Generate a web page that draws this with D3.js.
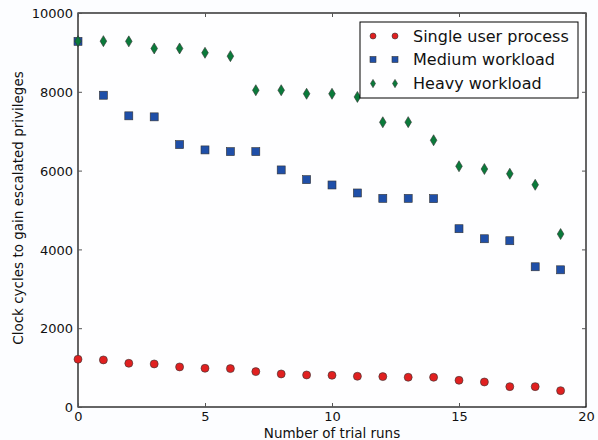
<!DOCTYPE html>
<html><head><meta charset="utf-8">
<script src="https://cdn.jsdelivr.net/npm/d3@7"></script>
<style>body{margin:0;background:#fcfdff;}svg{display:block;font-family:"DejaVu Sans",sans-serif;}</style>
</head><body><svg id="c" width="598" height="440"></svg>
<script>
const trials = d3.range(0, 20);
const singleUser = [1212,1195,1110,1093,1017,983,975,898,839,813,805,780,771,755,755,678,635,517,517,415];
const mediumLoad = [9280,7913,7390,7364,6660,6525,6482,6482,6017,5770,5635,5432,5295,5295,5287,4525,4270,4220,3559,3482];
const heavyLoad  = [9286,9286,9280,9100,9100,8990,8905,8040,8040,7950,7950,7870,7227,7230,6770,6110,6040,5920,5640,4390];
const xTicks = [0,5,10,15,20];
const yTicks = [0,2000,4000,6000,8000,10000];
const seriesNames = ["Single user process","Medium workload","Heavy workload"];
const seriesColors = ["#e02020","#1f4fa8","#0a7a3a"];
const seriesShapes = ["circle","square","diamond"];

const svg = d3.select("#c");
const L=78, R=586, T=13, B=407;
const x = d3.scaleLinear().domain([0,20]).range([L,R]);
const y = d3.scaleLinear().domain([0,10000]).range([B,T]);

// frame
svg.append("rect").attr("x",L).attr("y",T).attr("width",R-L).attr("height",B-T)
  .attr("fill","#fefeff").attr("stroke","#000").attr("stroke-width",1.2);

// axes with inward ticks
const fs = 13;
const ax = svg.append("g").attr("transform",`translate(0,${B})`)
  .call(d3.axisBottom(x).tickValues(xTicks).tickSize(-4).tickPadding(5).tickFormat(d3.format("d")));
const axT = svg.append("g").attr("transform",`translate(0,${T})`)
  .call(d3.axisTop(x).tickValues(xTicks).tickSize(-4).tickFormat(""));
const ay = svg.append("g").attr("transform",`translate(${L},0)`)
  .call(d3.axisLeft(y).tickValues(yTicks).tickSize(-4).tickPadding(5).tickFormat(d3.format("d")));
const ayR = svg.append("g").attr("transform",`translate(${R},0)`)
  .call(d3.axisRight(y).tickValues(yTicks).tickSize(-4).tickFormat(""));
[ax,axT,ay,ayR].forEach(g=>{
  g.select(".domain").remove();
  g.selectAll(".tick line").attr("stroke","#555");
  g.selectAll("text").attr("font-size",fs).attr("font-family","DejaVu Sans, sans-serif").attr("fill","#111");
});
ay.selectAll("text").attr("dy","0.36em");

svg.append("text").attr("x",(L+R)/2).attr("y",437.5).attr("text-anchor","middle")
  .attr("font-size",13.5).attr("fill","#111").text("Number of trial runs");
svg.append("text").attr("transform",`translate(22.5,${(T+B)/2 - 2}) rotate(-90)`).attr("text-anchor","middle")
  .attr("font-size",13.5).attr("fill","#111").text("Clock cycles to gain escalated privileges");

function drawMarker(g, shape, cx, cy, color, s){
  if(shape==="circle") g.append("circle").attr("cx",cx).attr("cy",cy).attr("r",4*s);
  else if(shape==="square") g.append("rect").attr("x",cx-4*s).attr("y",cy-4*s).attr("width",8*s).attr("height",8*s);
  else g.append("path").attr("d",`M${cx},${cy-5.5*s}L${cx+3.3*s},${cy}L${cx},${cy+5.5*s}L${cx-3.3*s},${cy}Z`);
  g.selectAll(":last-child").attr("fill",color).attr("stroke","#333").attr("stroke-width",0.6);
}

const allSeries = [singleUser, mediumLoad, heavyLoad];
allSeries.forEach((vals,i)=>{
  const g = svg.append("g");
  vals.forEach((v,j)=>drawMarker(g, seriesShapes[i], x(trials[j]), y(v), seriesColors[i], 1));
});

// legend
const lg = svg.append("g");
lg.append("rect").attr("x",360).attr("y",22).attr("width",218).attr("height",76)
  .attr("fill","#fefeff").attr("stroke","#000").attr("stroke-width",1);
const rowY = [36,59.5,83.5];
seriesNames.forEach((n,i)=>{
  [373,395].forEach(mx=>drawMarker(lg, seriesShapes[i], mx, rowY[i], seriesColors[i], 0.75));
  lg.append("text").attr("x",413).attr("y",rowY[i]).attr("dy","0.36em").attr("font-size",16)
    .attr("fill","#111").text(n);
});
</script></body></html>
